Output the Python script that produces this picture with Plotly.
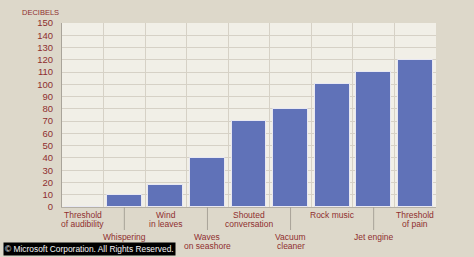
import plotly.graph_objects as go

categories = ["Threshold<br>of audibility", "Whispering", "Wind<br>in leaves",
              "Waves<br>on seashore", "Shouted<br>conversation", "Vacuum<br>cleaner",
              "Rock music", "Jet engine", "Threshold<br>of pain"]
decibels = [0, 10, 18, 40, 70, 80, 100, 110, 120]
y_ticks = list(range(0, 151, 10))

RED = "#8f2f2f"
FONT = "Liberation Sans, Arial, sans-serif"
W, H = 474, 257
L, R, T, B = 62, 38, 23, 50
pw, ph = W - L - R, H - T - B

xs = list(range(len(categories)))

fig = go.Figure()
fig.add_trace(go.Bar(
    x=xs, y=decibels, width=0.84,
    marker=dict(color="#6072b8", line=dict(color="#e8e8f2", width=1)),
    hoverinfo="skip",
))

for i, label in enumerate(categories):
    low = (i % 2 == 1)
    base = -30 if low else -8
    for j, line in enumerate(label.split("<br>")):
        fig.add_annotation(
            x=i, y=0, xref="x", yref="paper", text=line, showarrow=False,
            yanchor="middle", xanchor="center", align="center",
            yshift=base - 8.5 * j,
            font=dict(family=FONT, size=8.5, color=RED),
        )
    if low:
        fig.add_shape(type="line", xref="x", yref="paper", x0=i, x1=i, y0=0, y1=-0.125,
                      line=dict(color="#a8a398", width=1))

fig.add_annotation(
    x=(40 - L) / pw, y=1 + (T - 12) / ph, xref="paper", yref="paper",
    xanchor="center", yanchor="middle", text="DECIBELS", showarrow=False,
    font=dict(family=FONT, size=7.5, color=RED),
)
fig.add_annotation(
    x=(3 - L) / pw, y=-(248.5 - (H - B)) / ph, xref="paper", yref="paper",
    xanchor="left", yanchor="middle",
    text="© Microsoft Corporation. All Rights Reserved.", showarrow=False,
    font=dict(family=FONT, size=8.4, color="#f4f4f4"),
    bgcolor="black", borderpad=1,
)

fig.update_layout(
    width=W, height=H,
    margin=dict(l=L, r=R, t=T, b=B),
    paper_bgcolor="#ddd8ca",
    plot_bgcolor="#f1efe7",
    showlegend=False,
    bargap=0,
    xaxis=dict(range=[-0.5, len(categories) - 0.5],
               tickvals=[i + 0.5 for i in range(len(categories) - 1)],
               showticklabels=False, ticks="", showgrid=True, gridcolor="#d6d1c6",
               gridwidth=1, zeroline=False, showline=True, linecolor="#b5b0a5", fixedrange=True),
    yaxis=dict(range=[0, 150], tickvals=y_ticks, showgrid=True, gridcolor="#d6d1c6",
               gridwidth=1, zeroline=False, showline=True, linecolor="#a9a49a",
               ticks="", ticklabelstandoff=6,
               tickfont=dict(family=FONT, size=9.5, color=RED),
               fixedrange=True),
)

fig.write_html("out.html", config={"displayModeBar": False})
